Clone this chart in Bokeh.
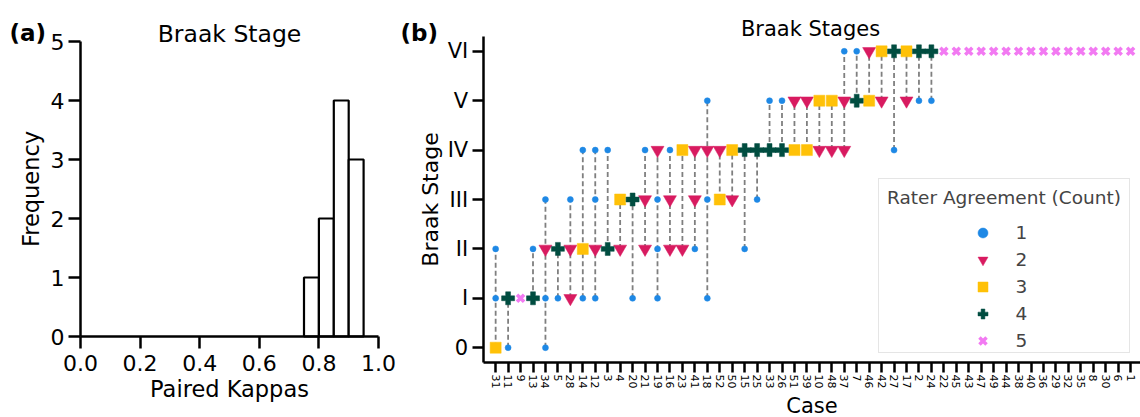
import math
from bokeh.plotting import figure
from bokeh.layouts import row
from bokeh.models import (Range1d, FixedTicker, Legend, LegendItem, Label,
                          ColumnDataSource, PrintfTickFormatter)
from bokeh.embed import file_html
from bokeh.resources import INLINE

FONT = "DejaVu Sans"

# ---------------- data: panel (a) ----------------
kappa_bin_edges = [0.75, 0.80, 0.85, 0.90, 0.95]
kappa_counts = [1, 2, 4, 3]
kappa_ticks = [0.0, 0.2, 0.4, 0.6, 0.8, 1.0]
freq_ticks = [0, 1, 2, 3, 4, 5]

# ---------------- data: panel (b) ----------------
case_ids = [31, 11, 9, 13, 34, 5, 28, 14, 12, 3, 4, 20, 21, 19, 16, 23, 41, 18,
            52, 50, 15, 25, 33, 26, 51, 39, 10, 48, 37, 7, 46, 42, 27, 17, 2, 24,
            22, 45, 43, 47, 49, 44, 38, 40, 36, 29, 32, 35, 8, 30, 6, 1]
# five raters' Braak stage per case (0..6), same order as case_ids
case_ratings = [
    [0, 0, 0, 1, 2], [1, 1, 1, 1, 0], [1, 1, 1, 1, 1], [2, 1, 1, 1, 1],
    [3, 2, 2, 1, 0], [2, 2, 2, 2, 1], [3, 2, 2, 1, 1], [4, 2, 2, 2, 1],
    [4, 3, 2, 2, 1], [4, 2, 2, 2, 2], [3, 3, 3, 2, 2], [3, 3, 3, 3, 1],
    [4, 3, 3, 2, 2], [4, 4, 3, 2, 1], [4, 3, 3, 2, 2], [4, 4, 4, 2, 2],
    [4, 4, 3, 3, 2], [5, 4, 4, 3, 1], [4, 4, 3, 3, 3], [4, 4, 4, 3, 3],
    [4, 4, 4, 4, 2], [4, 4, 4, 4, 3], [5, 4, 4, 4, 4], [5, 4, 4, 4, 4],
    [5, 5, 4, 4, 4], [5, 5, 4, 4, 4], [5, 5, 5, 4, 4], [5, 5, 5, 4, 4],
    [6, 5, 5, 4, 4], [6, 5, 5, 5, 5], [6, 6, 5, 5, 5], [6, 6, 6, 5, 5],
    [6, 6, 6, 6, 4], [6, 6, 6, 5, 5], [6, 6, 6, 6, 5], [6, 6, 6, 6, 5],
    [6, 6, 6, 6, 6], [6, 6, 6, 6, 6], [6, 6, 6, 6, 6], [6, 6, 6, 6, 6],
    [6, 6, 6, 6, 6], [6, 6, 6, 6, 6], [6, 6, 6, 6, 6], [6, 6, 6, 6, 6],
    [6, 6, 6, 6, 6], [6, 6, 6, 6, 6], [6, 6, 6, 6, 6], [6, 6, 6, 6, 6],
    [6, 6, 6, 6, 6], [6, 6, 6, 6, 6], [6, 6, 6, 6, 6], [6, 6, 6, 6, 6],
]
stage_labels = ["0", "I", "II", "III", "IV", "V", "VI"]
agreement_levels = [1, 2, 3, 4, 5]
agreement_colors = ["#1E88E5", "#D81B60", "#FFC107", "#004D40", "#F27AF2"]
agreement_markers = ["circle", "inverted_triangle", "square", "plus", "x"]
agreement_sizes = [6, 13, 11, 13, 10]


def style_axis(ax, tick_size, label_size, tick_len):
    ax.axis_line_width = 2.5
    ax.axis_line_color = "black"
    ax.major_tick_line_width = 2.5
    ax.major_tick_line_color = "black"
    ax.major_tick_out = tick_len
    ax.major_tick_in = 0
    ax.minor_tick_line_color = None
    ax.major_label_text_font = FONT
    ax.major_label_text_font_size = tick_size
    ax.major_label_text_color = "black"
    ax.axis_label_text_font = FONT
    ax.axis_label_text_font_size = label_size
    ax.axis_label_text_font_style = "normal"
    ax.axis_label_text_color = "black"


H = 417

# ---------------- panel (a) ----------------
WA = 396
# data x 0..1 -> canvas px 80..378, data y 5..0 -> canvas px 41..336
ax_l, ax_r, ay_t, ay_b = 80.0, 378.0, 41.0, 336.0
kx = (ax_r - ax_l) / 1.0
ky = (ay_b - ay_t) / 5.0
pa = figure(width=WA, height=H, output_backend="svg", toolbar_location=None,
            x_range=Range1d(-ax_l / kx, (WA - ax_l) / kx),
            y_range=Range1d(5 - (H - ay_t) / ky, 5 + ay_t / ky),
            min_border=0, title=None)
pa.outline_line_color = None
pa.grid.visible = False
pa.quad(left=kappa_bin_edges[:-1], right=kappa_bin_edges[1:], bottom=0, top=kappa_counts,
        fill_color="white", line_color="black", line_width=2.2)
pa.xaxis.ticker = FixedTicker(ticks=kappa_ticks)
pa.xaxis.formatter = PrintfTickFormatter(format="%.1f")
pa.yaxis.ticker = FixedTicker(ticks=freq_ticks)
pa.xaxis.fixed_location = 0
pa.yaxis.fixed_location = 0
pa.xaxis.bounds = (0, 1.0)
pa.yaxis.bounds = (0, 5)
pa.xaxis.axis_label = "Paired Kappas"
pa.yaxis.axis_label = "Frequency"
for ax in (pa.xaxis[0], pa.yaxis[0]):
    style_axis(ax, "22px", "22.5px", 12)
pa.xaxis.major_label_standoff = 6
pa.xaxis.axis_label_standoff = 2
pa.yaxis.major_label_standoff = 4
pa.yaxis.axis_label_standoff = 4


def a_x(px):
    return (px - ax_l) / kx


def a_y(py):
    return 5 - (py - ay_t) / ky


pa.add_layout(Label(x=a_x(9), y=a_y(32), text="(a)", text_font=FONT, text_font_size="23px",
                    text_font_style="bold", text_baseline="alphabetic", text_align="left",
                    text_color="black"))
pa.add_layout(Label(x=0.5, y=a_y(33), text="Braak Stage", text_font=FONT,
                    text_font_size="23.5px", text_baseline="alphabetic", text_align="center",
                    text_color="black"))

# ---------------- panel (b) ----------------
WB = 1140 - WA
x_lo = -1.0
y_lo, y_hi = -0.3, 6.3
# data x=-1 -> page px 482.7, 12.45 px per case
bx_l, by_t, by_b = 482.7 - WA, 36.0, 362.0
sxk = 12.45
syk = (by_b - by_t) / (y_hi - y_lo)
x_hi = x_lo + (WB - bx_l) / sxk
pb = figure(width=WB, height=H, output_backend="svg", toolbar_location=None,
            x_range=Range1d(x_lo - bx_l / sxk, x_hi),
            y_range=Range1d(y_hi - (H - by_t) / syk, y_hi + by_t / syk),
            min_border=0, title=None)
pb.outline_line_color = None
pb.grid.visible = False

idx = list(range(len(case_ids)))
lo = [min(r) for r in case_ratings]
hi = [max(r) for r in case_ratings]
pb.segment(x0=idx, y0=lo, x1=idx, y1=hi, line_color="#7f7f7f", line_width=1.8,
           line_dash="5 3")

renderers = []
for k, col, mk, sz in zip(agreement_levels, agreement_colors, agreement_markers, agreement_sizes):
    xs, ys = [], []
    for i, r in enumerate(case_ratings):
        for s in sorted(set(r)):
            if r.count(s) == k:
                xs.append(i)
                ys.append(s)
    src = ColumnDataSource(dict(x=xs, y=ys))
    if mk == "x":
        rr = pb.scatter("x", "y", source=src, marker=mk, size=sz, line_color=col,
                        line_width=3.5)
    else:
        rr = pb.scatter("x", "y", source=src, marker=mk, size=sz, fill_color=col,
                        line_color=col, line_width=0.5)
    renderers.append(rr)

pb.xaxis.ticker = FixedTicker(ticks=idx)
pb.xaxis.major_label_overrides = {i: str(c) for i, c in enumerate(case_ids)}
pb.xaxis.major_label_orientation = -math.pi / 2
pb.yaxis.ticker = FixedTicker(ticks=list(range(len(stage_labels))))
pb.yaxis.major_label_overrides = {i: s for i, s in enumerate(stage_labels)}
pb.xaxis.fixed_location = y_lo
pb.yaxis.fixed_location = x_lo
pb.xaxis.bounds = (x_lo, x_hi)
pb.yaxis.bounds = (y_lo, y_hi)
pb.xaxis.axis_label = "Case"
pb.yaxis.axis_label = "Braak Stage"
style_axis(pb.xaxis[0], "11px", "21px", 10)
style_axis(pb.yaxis[0], "22px", "22px", 11)
pb.yaxis.major_label_text_font_size = "21px"
pb.xaxis.major_label_standoff = 2
pb.xaxis.axis_label_standoff = 3
pb.yaxis.major_label_standoff = 4
pb.yaxis.axis_label_standoff = 2


def b_x(px):
    return x_lo + (px - WA - bx_l) / sxk


def b_y(py):
    return y_hi - (py - by_t) / syk


pb.add_layout(Label(x=b_x(400), y=b_y(32), text="(b)", text_font=FONT, text_font_size="23px",
                    text_font_style="bold", text_baseline="alphabetic", text_align="left",
                    text_color="black"))
pb.add_layout(Label(x=b_x(810), y=b_y(28), text="Braak Stages", text_font=FONT,
                    text_font_size="21px", text_baseline="alphabetic", text_align="center",
                    text_color="black"))

# legend: box + title (items blank), then centred visible items on top of it
LEG_X, LEG_Y = 878 - WA, H - 353
common = dict(label_text_font=FONT, label_text_font_size="18.5px", glyph_height=25,
              spacing=2, padding=8, margin=0)
legend_box = Legend(items=[LegendItem(label=" ", renderers=[r]) for r in renderers],
                    location=(LEG_X, LEG_Y), title="Rater Agreement (Count)",
                    title_text_font=FONT, title_text_font_size="18.5px",
                    title_text_font_style="normal", title_standoff=3,
                    glyph_width=0, label_standoff=0,
                    border_line_color="#cccccc", border_line_width=1.2,
                    background_fill_color="white", background_fill_alpha=1.0, **common)
legend_items = Legend(items=[LegendItem(label=str(k), renderers=[r])
                             for k, r in zip(agreement_levels, renderers)],
                      location=(990 - WA - 8 - 12.5, LEG_Y),
                      glyph_width=25, label_standoff=21,
                      border_line_color=None, background_fill_alpha=0.0, **common)
pb.add_layout(legend_box)
pb.add_layout(legend_items)

layout = row(pa, pb)
open("out.html", "w").write(file_html(layout, INLINE))
